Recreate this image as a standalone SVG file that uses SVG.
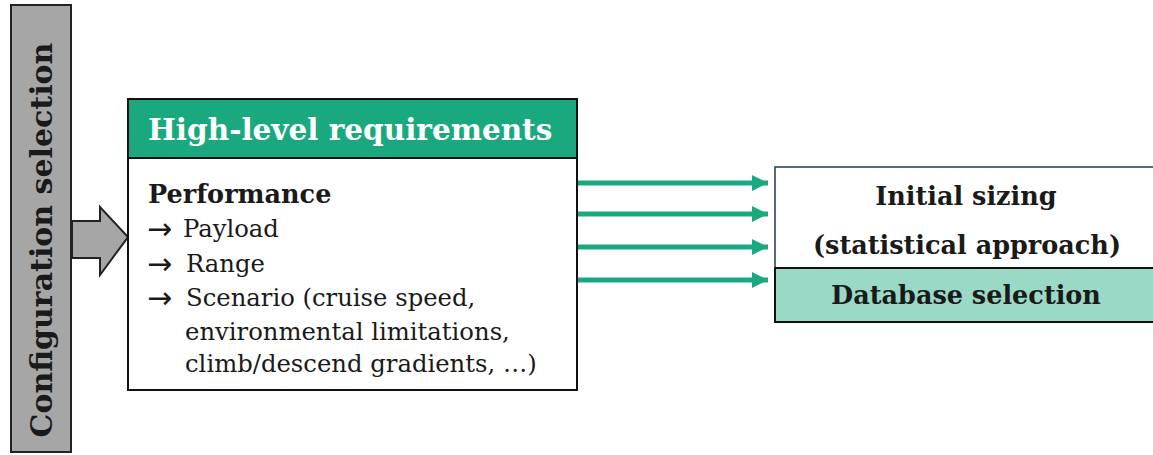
<svg xmlns="http://www.w3.org/2000/svg" width="1153" height="455" viewBox="0 0 1153 455">
<style>
.t{font-family:"DejaVu Serif","Liberation Serif",serif;fill:#1a1a1a}
.b{font-weight:bold}
.ar{font-family:"DejaVu Sans","Liberation Sans",sans-serif;font-size:30px}
.conn{stroke:#1aa97f;stroke-width:5;fill:none}
</style>
<defs>
<marker id="ah" markerUnits="userSpaceOnUse" markerWidth="18" markerHeight="18" refX="16" refY="8" orient="auto">
<path d="M0,0 L16,8 L0,16 Z" fill="#1aa97f"/>
</marker>
</defs>
<rect width="1153" height="455" fill="#fff"/>
<g id="config">
<rect x="11" y="5" width="60" height="447" fill="#a6a6a6" stroke="#222" stroke-width="2"/>
<text class="t b" transform="translate(52,240) rotate(-90)" text-anchor="middle" font-size="30">Configuration selection</text>
</g>
<g id="config-arrow">
<path d="M72,221 L100,221 L100,207 L128,237 L100,275 L100,258 L72,258 Z" fill="#a6a6a6" stroke="#222" stroke-width="2" stroke-linejoin="miter"/>
</g>
<g id="requirements">
<rect x="128" y="99" width="449" height="291" fill="#fff" stroke="#111" stroke-width="2"/>
<rect x="128" y="99" width="449" height="59" fill="#1aa97f" stroke="#111" stroke-width="2"/>
<text x="148" y="140" font-size="29.5" font-weight="bold" font-family="DejaVu Serif,Liberation Serif,serif" fill="#fff">High-level requirements</text>
<text class="t b" x="148" y="203" font-size="25.5">Performance</text>
<text class="t" font-size="24.3">
<tspan class="ar" x="147" y="239">→</tspan><tspan x="183" y="237">Payload</tspan>
<tspan class="ar" x="147" y="274">→</tspan><tspan x="186" y="272">Range</tspan>
<tspan class="ar" x="147" y="308">→</tspan><tspan x="186" y="306">Scenario (cruise speed,</tspan>
<tspan x="185" y="340">environmental limitations,</tspan>
<tspan x="185" y="372">climb/descend gradients, …)</tspan>
</text>
</g>
<g id="sizing">
<rect x="775" y="167" width="390" height="155" fill="#fff" stroke="#1f3864" stroke-width="1.5"/>
<rect x="775" y="268" width="390" height="54" fill="#99d9c6" stroke="#111" stroke-width="2"/>
<text class="t b" x="966" y="205" font-size="25.5" text-anchor="middle">Initial sizing</text>
<text class="t b" x="967" y="254" font-size="25.5" text-anchor="middle">(statistical approach)</text>
<text class="t b" x="966" y="304" font-size="25.5" text-anchor="middle">Database selection</text>
</g>
<g id="connectors">
<line class="conn" x1="578" y1="183" x2="768" y2="183" marker-end="url(#ah)"/>
<line class="conn" x1="578" y1="214" x2="768" y2="214" marker-end="url(#ah)"/>
<line class="conn" x1="578" y1="247" x2="768" y2="247" marker-end="url(#ah)"/>
<line class="conn" x1="578" y1="280" x2="768" y2="280" marker-end="url(#ah)"/>
</g>
</svg>
